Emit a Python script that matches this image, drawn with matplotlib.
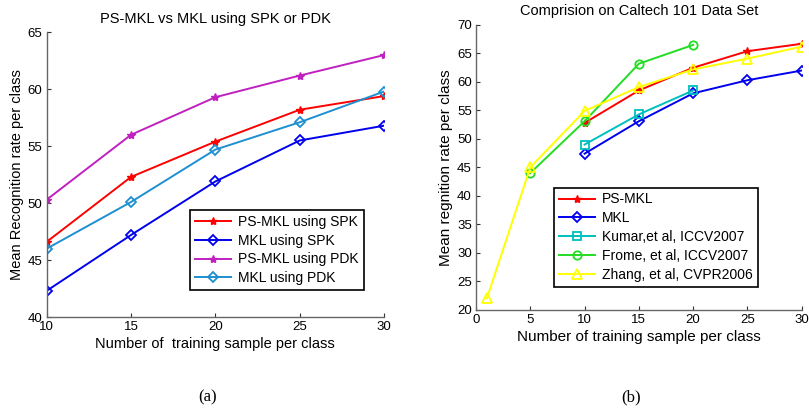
import matplotlib.pyplot as plt

plt.rcParams["font.family"] = "Liberation Sans"

# (a) PS-MKL vs MKL using SPK or PDK
x_a = [10, 15, 20, 25, 30]
psmkl_spk = [46.6, 52.3, 55.4, 58.2, 59.4]
mkl_spk = [42.3, 47.2, 51.9, 55.5, 56.8]
psmkl_pdk = [50.3, 56.0, 59.3, 61.2, 63.0]
mkl_pdk = [46.0, 50.1, 54.7, 57.1, 59.8]

# (b) Comparison on Caltech 101
x_b = [10, 15, 20, 25, 30]
psmkl = [52.8, 58.5, 62.5, 65.4, 66.7]
mkl = [47.4, 53.1, 58.0, 60.3, 62.0]
x_kumar = [10, 15, 20]
kumar = [49.0, 54.3, 58.5]
x_frome = [5, 10, 15, 20]
frome = [44.0, 53.1, 63.2, 66.5]
x_zhang = [1, 5, 10, 15, 20, 25, 30]
zhang = [22.0, 45.0, 54.9, 59.1, 62.2, 64.1, 66.2]

fig = plt.figure(figsize=(8.09, 4.11), dpi=100)
ax1 = fig.add_axes([0.0577, 0.2287, 0.417, 0.6927])
ax2 = fig.add_axes([0.5884, 0.2465, 0.4026, 0.6927])

lw = 1.4
ms_star = 6
ms = 6

ax1.plot(x_a, psmkl_spk, color="red", marker="*", markersize=ms_star, lw=lw, label="PS-MKL using SPK")
ax1.plot(x_a, mkl_spk, color="#0000ee", marker="D", markersize=5, mfc="none", mew=1.3, lw=lw, label="MKL using SPK")
ax1.plot(x_a, psmkl_pdk, color="#c020c0", marker="*", markersize=ms_star, lw=lw, label="PS-MKL using PDK")
ax1.plot(x_a, mkl_pdk, color="#1e8fd0", marker="D", markersize=5, mfc="none", mew=1.3, lw=lw, label="MKL using PDK")

ax1.set_xlim(10, 30)
ax1.set_ylim(40, 65)
ax1.set_xticks([10, 15, 20, 25, 30])
ax1.set_yticks([40, 45, 50, 55, 60, 65])
ax1.set_title("PS-MKL vs MKL using SPK or PDK", fontsize=10.5, pad=7)
ax1.set_xlabel("Number of  training sample per class", fontsize=10.5, labelpad=3)
ax1.set_ylabel("Mean Recognition rate per class", fontsize=10.5, labelpad=3)
leg1 = ax1.legend(loc="lower right", bbox_to_anchor=(0.96, 0.07), fontsize=10,
                  fancybox=False, edgecolor="black", framealpha=1,
                  handlelength=2.6, borderpad=0.35, labelspacing=0.35, handletextpad=0.5)
leg1.get_frame().set_linewidth(1.2)

ax2.plot(x_b, psmkl, color="red", marker="*", markersize=ms_star, lw=lw, label="PS-MKL")
ax2.plot(x_b, mkl, color="#0000ee", marker="D", markersize=5, mfc="none", mew=1.3, lw=lw, label="MKL")
ax2.plot(x_kumar, kumar, color="#00bfbf", marker="s", markersize=ms, mfc="none", mew=1.3, lw=lw, label="Kumar,et al, ICCV2007")
ax2.plot(x_frome, frome, color="#22dd22", marker="o", markersize=ms, mfc="none", mew=1.3, lw=lw, label="Frome, et al, ICCV2007")
ax2.plot(x_zhang, zhang, color="#ffff00", marker="^", markersize=7, mfc="none", mew=1.3, lw=lw, label="Zhang, et al, CVPR2006")

ax2.set_xlim(0, 30)
ax2.set_ylim(20, 70)
ax2.set_xticks([0, 5, 10, 15, 20, 25, 30])
ax2.set_yticks(range(20, 71, 5))
ax2.set_title("Comprision on Caltech 101 Data Set", fontsize=10.5, pad=7)
ax2.set_xlabel("Number of training sample per class", fontsize=11, labelpad=3)
ax2.set_ylabel("Mean regnition rate per class", fontsize=11, labelpad=3)
leg2 = ax2.legend(loc="lower right", bbox_to_anchor=(0.887, 0.056), fontsize=10,
                  fancybox=False, edgecolor="black", framealpha=1,
                  handlelength=2.6, borderpad=0.35, labelspacing=0.35, handletextpad=0.5)
leg2.get_frame().set_linewidth(1.2)

for ax in (ax1, ax2):
    for s in ("top", "right"):
        ax.spines[s].set_visible(False)
    for s in ("left", "bottom"):
        ax.spines[s].set_color("#666666")
        ax.spines[s].set_linewidth(1.0)
    ax.tick_params(direction="in", length=3, labelsize=9.5, color="#333333", pad=3)

fig.text(0.256, 0.033, "(a)", fontsize=12, family="Liberation Serif", ha="center", va="center")
fig.text(0.78, 0.033, "(b)", fontsize=12, family="Liberation Serif", ha="center", va="center")

fig.savefig("out.png", dpi=100)
